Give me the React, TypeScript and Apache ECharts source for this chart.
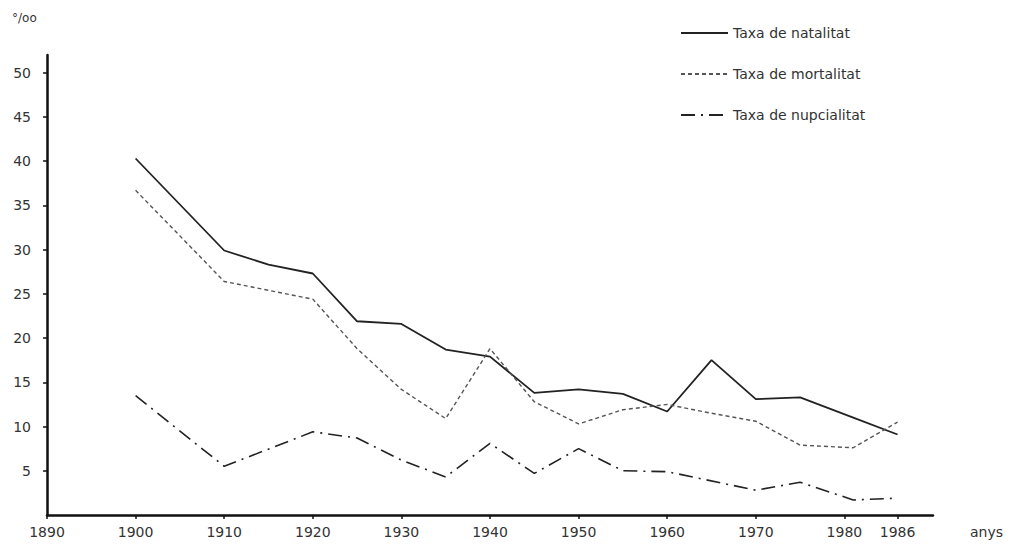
import React, { useEffect, useRef } from "react";
import * as echarts from "echarts";

const natYears = [1900, 1910, 1915, 1920, 1925, 1930, 1935, 1940, 1945, 1950, 1955, 1960, 1965, 1970, 1975, 1981, 1986];
const natValues = [40.3, 29.9, 28.3, 27.3, 21.9, 21.6, 18.7, 17.9, 13.8, 14.2, 13.7, 11.7, 17.5, 13.1, 13.3, 11.0, 9.1];

const mortYears = [1900, 1910, 1920, 1925, 1930, 1935, 1940, 1945, 1950, 1955, 1960, 1965, 1970, 1975, 1981, 1986];
const mortValues = [36.7, 26.4, 24.4, 18.8, 14.2, 10.9, 18.8, 12.8, 10.3, 11.9, 12.5, 11.5, 10.6, 7.9, 7.6, 10.5];

const nupYears = [1900, 1910, 1920, 1925, 1930, 1935, 1940, 1945, 1950, 1955, 1960, 1970, 1975, 1981, 1986];
const nupValues = [13.5, 5.5, 9.4, 8.7, 6.2, 4.3, 8.1, 4.7, 7.5, 5.0, 4.9, 2.8, 3.7, 1.7, 1.9];

const xTickLabels = [1890, 1900, 1910, 1920, 1930, 1940, 1950, 1960, 1970, 1980, 1986];
const yTickLabels = [5, 10, 15, 20, 25, 30, 35, 40, 45, 50];

const seriesNames = ["Taxa de natalitat", "Taxa de mortalitat", "Taxa de nupcialitat"];

const pairs = (xs: number[], ys: number[]) => xs.map((x, i) => [x, ys[i]]);

const FONT = "DejaVu Sans";

export default function App() {
  const ref = useRef<HTMLDivElement>(null);
  useEffect(() => {
    document.body.style.margin = "0";
    const chart = echarts.init(ref.current!, null, { renderer: "svg" });
    chart.setOption({
      animation: false,
      backgroundColor: "#ffffff",
      textStyle: { fontFamily: FONT },
      grid: { left: 47, right: 89, top: 55, bottom: 34, outerBoundsMode: "none" },
      legend: {
        orient: "vertical",
        left: 675,
        top: 21,
        itemWidth: 47,
        itemHeight: 14,
        itemGap: 27,
        itemStyle: { color: "rgba(0,0,0,0)", opacity: 0, borderWidth: 0 },
        textStyle: { fontFamily: FONT, fontSize: 14, color: "#333" },
        data: seriesNames,
      },
      graphic: [
        {
          type: "text",
          left: 12,
          top: 12,
          style: { text: "°/oo", fontFamily: FONT, fontSize: 12, fill: "#333" },
        },
      ],
      xAxis: {
        type: "value",
        min: 1890,
        max: 1990,
        interval: 10,
        name: "anys",
        nameLocation: "end",
        nameGap: 37,
        nameTextStyle: { fontFamily: FONT, fontSize: 14, color: "#333", verticalAlign: "top", padding: [10, 0, 0, 0] },
        axisLine: { show: true, onZero: false, lineStyle: { color: "#111", width: 2.5 } },
        axisTick: { show: true, length: 4, lineStyle: { color: "#111", width: 1.5 }, customValues: xTickLabels },
        axisLabel: {
          color: "#333",
          fontSize: 14,
          fontFamily: FONT,
          margin: 10,
          customValues: xTickLabels,
          formatter: (v: number) => String(v),
        },
        splitLine: { show: false },
      },
      yAxis: {
        type: "value",
        min: 0,
        max: 52,
        interval: 5,
        axisLine: { show: true, lineStyle: { color: "#111", width: 2.5 } },
        axisTick: { show: true, length: 4, lineStyle: { color: "#111", width: 1.5 }, customValues: yTickLabels },
        axisLabel: {
          color: "#333",
          fontSize: 14,
          fontFamily: FONT,
          margin: 16,
          customValues: yTickLabels,
        },
        splitLine: { show: false },
      },
      series: [
        {
          name: seriesNames[0],
          type: "line",
          symbol: "none",
          data: pairs(natYears, natValues),
          lineStyle: { color: "#222", width: 1.8, type: "solid" },
          itemStyle: { color: "#222" },
        },
        {
          name: seriesNames[1],
          type: "line",
          symbol: "none",
          data: pairs(mortYears, mortValues),
          lineStyle: { color: "#555", width: 1.4, type: [4, 3] },
          itemStyle: { color: "#555" },
        },
        {
          name: seriesNames[2],
          type: "line",
          symbol: "none",
          data: pairs(nupYears, nupValues),
          lineStyle: { color: "#222", width: 1.6, type: [14, 6, 2, 6] },
          itemStyle: { color: "#222" },
        },
      ],
    });
    return () => chart.dispose();
  }, []);
  return <div ref={ref} style={{ width: 1022, height: 549 }} />;
}
